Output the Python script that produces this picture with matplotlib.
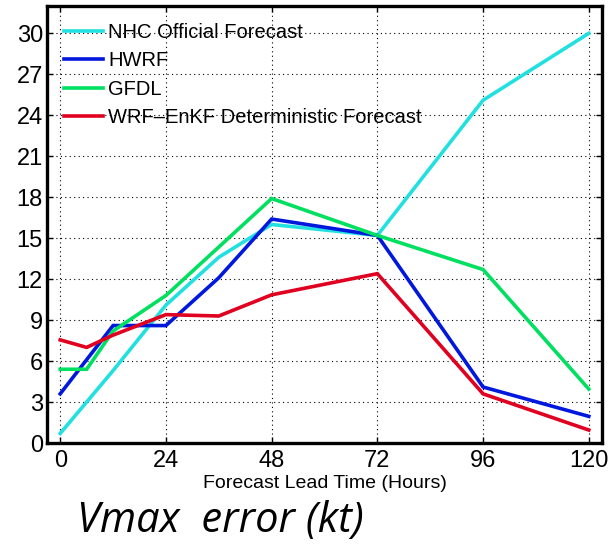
import matplotlib
matplotlib.use("Agg")
import matplotlib.pyplot as plt

plt.rcParams['font.family'] = ['Liberation Sans', 'DejaVu Sans']

nhc_x = [0, 12, 24, 36, 48, 72, 96, 120]
nhc_y = [0.7, 5.3, 10.1, 13.6, 16.0, 15.2, 25.1, 30.0]

hwrf_x = [0, 12, 24, 36, 48, 72, 96, 120]
hwrf_y = [3.6, 8.6, 8.6, 12.1, 16.4, 15.2, 4.1, 1.95]

gfdl_x = [0, 6, 12, 24, 48, 72, 96, 120]
gfdl_y = [5.4, 5.4, 8.2, 10.8, 17.9, 15.2, 12.7, 3.95]

enkf_x = [0, 6, 12, 24, 36, 48, 72, 96, 120]
enkf_y = [7.55, 7.0, 7.9, 9.4, 9.3, 10.85, 12.4, 3.6, 0.95]

labels = ['NHC Official Forecast', 'HWRF', 'GFDL', 'WRF\u2013EnKF Deterministic Forecast']
colors = ['#22E0E0', '#0018DD', '#00E060', '#E00020']
xticks = [0, 24, 48, 72, 96, 120]
yticks = [0, 3, 6, 9, 12, 15, 18, 21, 24, 27, 30]

fig = plt.figure(figsize=(6.13, 5.45), dpi=100)
ax = fig.add_axes([47/613, 1-443/545, (602-47)/613, (443-6)/545])

series = [(nhc_x, nhc_y), (hwrf_x, hwrf_y), (gfdl_x, gfdl_y), (enkf_x, enkf_y)]
for (xs, ys), lab, c in zip(series, labels, colors):
    ax.plot(xs, ys, color=c, lw=2.6, label=lab, solid_joinstyle='miter')

ax.set_xlim(-3, 123)
ax.set_ylim(0, 32)
ax.set_xticks(xticks)
ax.set_yticks(yticks)
ax.tick_params(direction='in', top=True, right=True, labelsize=17, length=4, width=1, pad=3)
ax.tick_params(axis='x', pad=5)
ax.grid(True, linestyle=(0, (1, 3)), color='black', linewidth=0.8)
for s in ax.spines.values():
    s.set_linewidth(2.4)

ax.set_xlabel('Forecast Lead Time (Hours)', fontsize=14, labelpad=2)

leg = ax.legend(loc='upper left', frameon=False, fontsize=14.5, handlelength=1.95,
                handletextpad=0.25, labelspacing=0.46, borderaxespad=0.45,
                bbox_to_anchor=(0.0, 1.0))

fig.text(77/613, 1-532/545, 'Vmax  error (kt)', fontsize=30, style='italic',
         family=['Open Sans', 'DejaVu Sans'], va='baseline', ha='left')

fig.savefig('out.png', dpi=100)
